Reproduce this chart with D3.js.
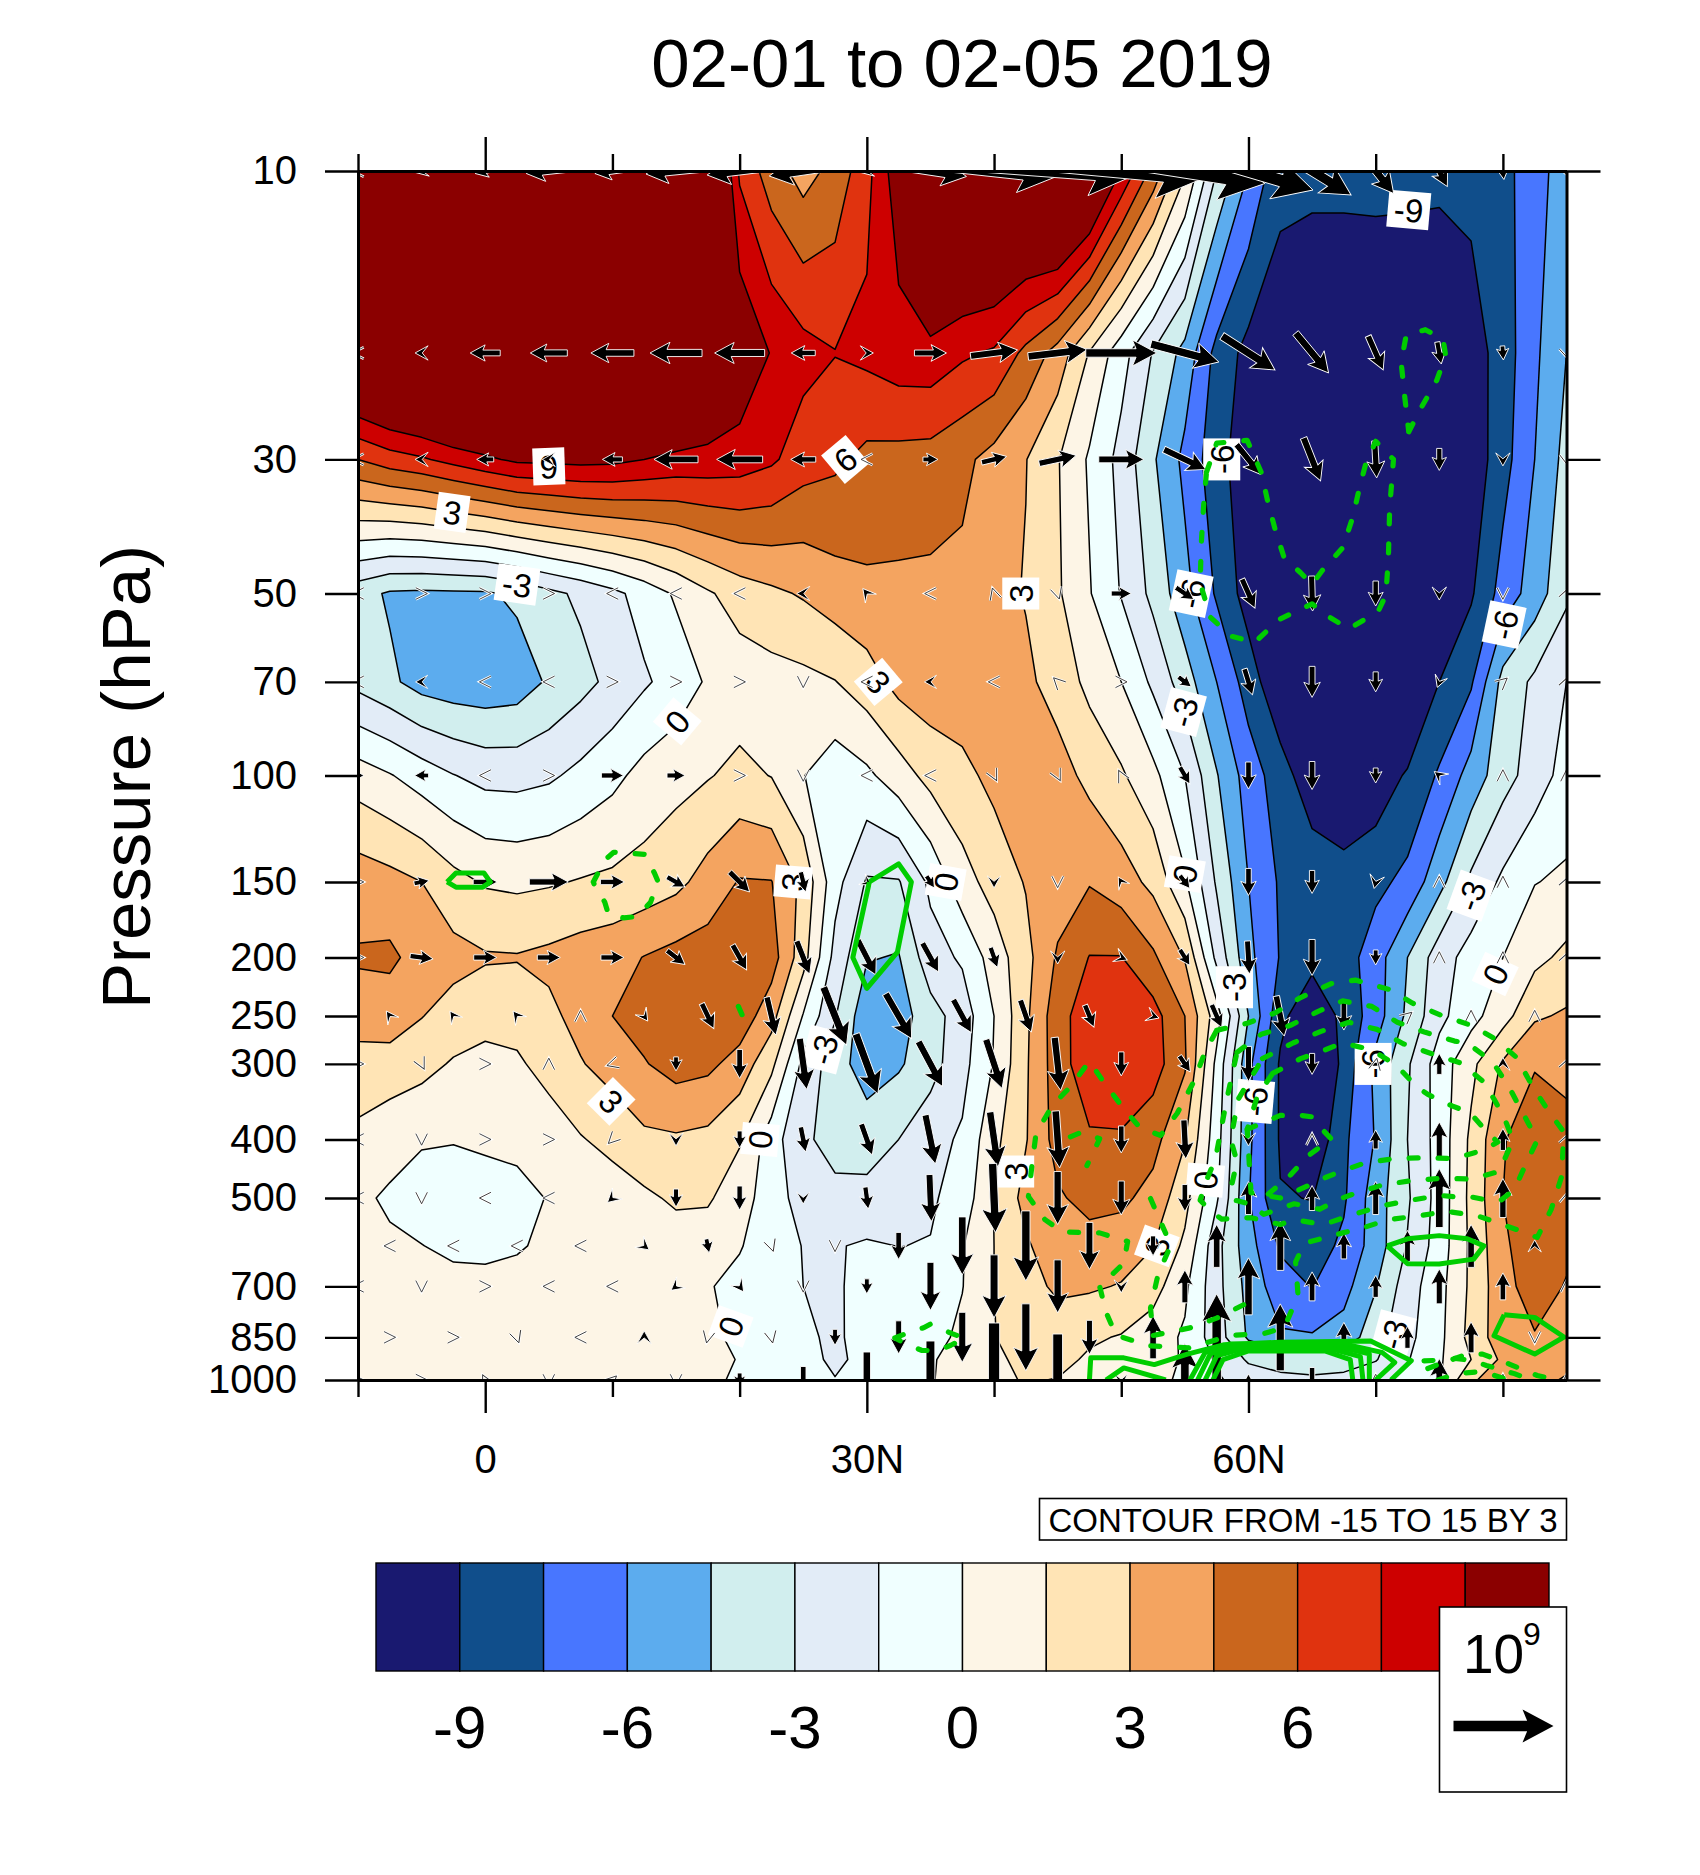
<!DOCTYPE html>
<html><head><meta charset="utf-8">
<script src="https://cdn.jsdelivr.net/npm/d3@7"></script>
<style>
html,body{margin:0;padding:0;background:#fff}
text{font-family:"Liberation Sans",Arial,sans-serif;fill:#000}
</style></head><body>
<svg id="c" width="1700" height="1875" viewBox="0 0 1700 1875"></svg>
<script>
// ---- grid axes
const pressureLevels=[10,20,30,50,70,100,150,200,250,300,400,500,600,700,850,925,1000];
const latStep=2.5, latStart=-10, latCount=39;
// ---- shaded field, one row per pressure level, lat -10..85 by 2.5
const f10=[14,14,14,14,14,14,14,14,14,14,14,13.5,7.25,5.2,3.9,5,7,10,14,14,14,14,15,13,8.9,5.5,1.7,-3,-6,-8.6,-8.7,-8.7,-8.7,-8.7,-8.7,-8.5,-7.9,-6.8,-5];
const f20=[13.5,14.7,15.5,17,16,14,14,14,14,14,14,12,10.4,8.9,8.05,7.55,7.88,8.4,8.5,7.75,7.3,5.6,3.9,1.4,-.9,-3.1,-5,-8,-9.5,-9.8,-10,-10,-9.9,-10,-10.2,-9.8,-8.3,-6.3,-4.5];
const f30=[6,6.8,7.3,8,8.7,9.3,9.4,9.5,9.4,9,8.6,8.5,8.3,7.75,6.7,6.3,5.6,5.5,5.4,4.85,4,3.05,1.6,-.2,-2,-4.3,-6.4,-8.4,-10,-11,-11.5,-11.5,-11.5,-11.5,-11.5,-10,-8.1,-6,-4];
const f50=[-3.9,-4.7,-4.8,-4.75,-4.7,-4.2,-3.4,-2.7,-1.9,-.9,.2,1.3,2.2,2.7,3.15,3.8,4.2,4.17,4.13,4.14,3.5,2.9,1.7,.1,-1.6,-3.4,-5.5,-7.7,-9.7,-11.5,-12,-12,-12,-12,-11.5,-9.2,-6.9,-5.3,-3.3];
const f70=[-3.45,-4.2,-5.1,-5.4,-5.5,-5.3,-4.3,-3.5,-2.6,-1.7,-.9,.2,.65,.9,1.1,1.45,2.3,3.5,3.9,3.9,3.7,3.3,2.4,1.1,0,-1.8,-3.8,-6,-8.2,-10.3,-11.5,-11.5,-11.5,-11.5,-9,-7.7,-4,-2.7,-1.5];
const f100=[.75,.1,-.7,-1.45,-1.95,-2,-1.75,-1.1,-.4,.5,1,1.4,1.9,1.45,.05,-.9,-.3,.8,2,2.6,3.4,3.8,3.6,2.6,1.7,.4,-1.5,-4.4,-6.7,-8.3,-10,-10.5,-10,-8.8,-7.3,-5.4,-3.6,-2.3,-.9];
const f150=[3.85,3.5,3,2,1.35,1.2,1.35,1.6,1.8,2.1,2.6,3.6,4.6,4.55,2.6,-.95,-3.15,-3.1,-1.2,.9,2.1,3.1,3.7,4.4,3.7,2.6,.2,-3.2,-6,-7.7,-8,-8.35,-7.9,-7.1,-5,-2.7,-1.2,-.05,.25];
const f200=[4.65,4.8,3.9,3.5,3.15,3.1,3.35,3.7,3.95,4.55,5,5.2,5.4,5.2,2.1,-2,-4.4,-4.6,-2.1,-1.3,.7,2.5,4.7,6.05,6.05,4.75,2.9,-1.9,-5.6,-7.6,-8.5,-8.2,-6.7,-4.5,-2.2,-.9,0,1.1,1.85];
const f250=[3.85,3.7,3.05,2.4,2,1.9,2.65,3.5,4.5,5.1,5.4,5.6,5.4,3.6,-.1,-2.9,-5.5,-5.2,-3.6,-2.3,0,2.7,5.4,6.9,7.2,6.6,4.5,.7,-4.5,-8.6,-10.2,-8.6,-6.7,-4.2,-1.9,-.5,.9,2.8,3.2];
const f300=[2.25,2.45,2,1.35,1.05,1.34,1.9,2.9,3.6,4.4,5.1,4.85,3.9,1.9,-1.9,-3.8,-5.3,-4.7,-3.6,-2,.1,2.8,5.3,7,7.3,6.7,4.7,-.4,-5.6,-9.2,-11.5,-8.5,-5.6,-3.2,-.8,1.1,3.2,4.4,4.2];
const f400=[1.2,.42,.1,.05,.17,.25,.9,1.4,1.95,2.7,2.8,2.6,1.65,-.8,-2.8,-3.4,-3.6,-3,-2,-1.3,1.1,2.9,5.1,5.8,5.8,5,3.1,-.9,-5.6,-9.2,-10.3,-7.8,-5.9,-3,-.9,1.8,4.4,5.3,4.85];
const f500=[.2,-.15,-.45,-.5,-.45,-.3,.05,.4,.75,1.2,1.75,1.7,.6,-.7,-2.2,-2.7,-2.6,-2.2,-1.7,-.9,1.55,3.5,4.3,5,4.8,4,2,-1.3,-5.9,-8.9,-9.05,-7.7,-5.2,-3.2,-.9,1.9,4.5,5.4,4.7];
const f600=[.3,.15,.02,-.2,-.25,-.1,.2,.45,.6,.7,.75,.65,.1,-.8,-1.55,-1.6,-1.32,-1.52,-1.44,-.1,1.5,2.8,3.9,3.9,3.8,3.05,1.2,-2.5,-5.4,-7.7,-8.2,-7.2,-5.3,-2.9,-.8,1.8,4.2,5.5,4.8];
const f700=[.4,.35,.3,.3,.3,.35,.4,.4,.4,.4,.35,.1,-.4,-.9,-1.5,-1.7,-1,-.9,-.6,-.05,1.5,2.6,3.2,3.2,2.9,2.1,.3,-2.5,-5,-6.9,-7.55,-6.5,-4.6,-2.2,-.5,1.8,4,5.2,4.4];
const f850=[.35,.3,.3,.3,.3,.35,.35,.35,.35,.4,.4,.2,-.2,-.85,-1.25,-1.75,-.9,-.6,-.5,.3,1.45,2.2,2.4,1.7,1.4,.7,-.2,-2.3,-4.7,-5.8,-5.85,-5.4,-3.6,-1.9,-.4,2,3.9,4.4,3.6];
const f925=[.3,.3,.3,.3,.3,.3,.3,.3,.3,.35,.35,.3,-.05,-.7,-1.15,-1.7,-1.2,-.6,-.1,.4,1.2,1.9,1.9,1.3,.9,.4,-.1,-1.7,-3.2,-3.4,-3.6,-3.4,-3.1,-1.6,-.2,1.5,3.3,3.6,3.3];
const f1000=[.3,.3,.3,.3,.3,.3,.3,.3,.3,.3,.3,.2,-.15,-.5,-.9,-1.46,-.9,-.5,-.05,.3,1.2,1.6,1.45,1,.8,.3,-.2,-1.3,-2.2,-2.75,-2.8,-2.75,-2,-1,-.2,2.8,3.8,3.3,2.9];
const fieldRows=[f10,f20,f30,f50,f70,f100,f150,f200,f250,f300,f400,f500,f600,f700,f850,f925,f1000];
// ---- colour levels
const levels=[-9,-7.5,-6,-4.5,-3,-1.5,0,1.5,3,4.5,6,7.5,9];
const bandColors=["#191970","#104E8B","#4876FF","#5CACEE","#D1EEEE","#E2ECF7","#F0FFFF","#FDF5E6","#FFE4B5","#F4A460","#CA661D","#E0330F","#CD0000","#8B0000"];
const barLabels=[-9,-6,-3,0,3,6];
// ---- vectors (units of 1e9); whole rows sit at -10,-5..85, staggered rows at -7.5,-2.5..82.5
const latsWhole=d3.range(-10,85.01,5), latsStag=d3.range(-7.5,82.51,5);
const u10=[-.02,-.12,-.2,-.45,-.35,-.6,-.65,-.68,-.12,.72,1.2,1.48,1.63,1.6,1.29,.78,.36,.16,.02,.02];
const v10=[0,-.03,-.05,-.05,-.05,-.06,-.08,-.1,-.03,-.11,-.13,-.11,-.15,-.25,-.38,-.48,-.45,-.31,-.17,-.05];
const u20=[-.08,-.13,-.3,-.37,-.43,-.52,-.5,-.24,.13,.32,.47,.59,.71,.68,.53,.33,.15,.04,.01,.03];
const v20=[0,0,0,0,0,0,0,0,0,0,.06,.07,0,-.18,-.34,-.4,-.34,-.22,-.14,-.1];
const u30=[-.08,-.13,-.17,-.13,-.2,-.44,-.46,-.25,-.1,.15,.25,.37,.45,.42,.24,.17,.02,0,0,.02];
const v30=[0,0,0,0,0,0,0,0,0,0,.06,.08,0,-.2,-.3,-.43,-.37,-.22,-.13,-.1];
const u50=[-.08,.11,.1,.1,-.1,-.1,-.1,-.13,-.08,-.1,-.03,.03,.2,.18,.13,.01,0,0,0,.02];
const v50=[0,0,0,0,0,0,0,0,.1,0,.1,-.1,0,-.12,-.29,-.35,-.25,-.13,-.11,.05];
const u70=[-.08,-.12,-.11,-.1,.1,.1,.09,0,-.1,-.12,-.11,-.08,.1,.13,.08,0,0,-.04,.08,.02];
const v70=[0,0,0,0,0,0,0,-.1,0,0,0,.08,0,-.1,-.26,-.31,-.2,-.11,.07,.05];
const u100=[.12,-.14,-.1,.11,.22,.18,.1,0,-.1,-.1,.05,.05,-.05,.1,0,0,0,-.1,0,0];
const v100=[0,0,0,0,0,0,0,-.1,0,0,-.1,-.1,.1,-.17,-.27,-.28,-.15,.08,.11,.05];
const u150=[.05,.15,.24,.39,.24,.18,.2,.05,.1,.08,0,0,-.06,.1,0,0,-.03,0,0,.02];
const v150=[0,.03,0,0,0,-.1,-.2,-.2,-.06,-.12,-.12,-.1,.1,-.13,-.27,-.23,-.13,.11,.1,.05];
const u200=[.1,.23,.23,.23,.23,.18,.14,.13,.18,.16,.07,0,.12,.1,.02,0,0,0,0,.02];
const v200=[0,-.03,0,0,0,-.14,-.25,-.33,-.35,-.29,-.2,-.13,-.05,-.16,-.33,-.36,-.15,.11,.1,.05];
const u250=[-.07,-.07,-.08,0,.07,.12,.09,.23,.26,.18,.11,.09,.12,.1,.08,0,.07,0,0];
const v250=[.1,.1,.1,.11,-.1,-.25,-.38,-.58,-.45,-.33,-.32,-.22,-.04,-.23,-.4,-.28,.06,.11,.11];
const u300=[.04,.05,.1,0,-.1,0,0,.07,.22,.24,.16,.06,0,.11,0,0,.02,0,0,.02];
const v300=[0,-.1,0,.1,-.03,-.14,-.29,-.51,-.6,-.45,-.49,-.53,-.24,-.16,-.35,-.21,.1,.21,.13,.05];
const u400=[-.07,0,.1,.09,-.07,0,0,.05,.11,.1,.08,.04,0,.02,0,0,0,0,0,.02];
const v400=[0,-.1,0,0,-.07,-.13,-.17,-.25,-.31,-.49,-.55,-.57,-.27,-.39,-.13,.11,.19,.35,.22,.05];
const u500=[-.1,0,-.1,-.1,-.1,0,0,0,.03,.02,.03,0,0,0,0,0,0,0,0,.02];
const v500=[0,-.09,0,0,-.09,-.18,-.24,-.12,-.22,-.47,-.69,-.53,-.34,-.27,.33,.25,.33,.59,.39,.08];
const u600=[-.1,-.1,-.1,-.09,.1,.03,.03,0,0,0,0,0,0,0,0,0,0,0,0];
const v600=[0,0,0,0,-.08,-.14,-.09,-.1,-.27,-.58,-.7,-.47,-.2,.43,.49,.26,.31,.43,.12];
const u700=[-.1,0,.1,-.1,-.1,-.1,.08,0,0,0,0,0,0,0,0,0,0,0,0,0];
const v700=[0,-.1,0,0,0,-.08,-.11,-.09,-.15,-.48,-.63,-.53,-.13,.33,.57,.29,.22,.35,.27,.05];
const u850=[.1,.1,.03,-.1,0,-.02,.02,0,0,0,0,0,0,0,0,0,0,0,0];
const v850=[0,0,-.09,0,.13,-.09,-.09,-.16,-.33,-.5,-.67,-.34,.43,.87,.67,.3,.22,.31,-.11];
const u1000=[.05,.05,-.05,0,.05,0,0,0,0,0,0,0,0,0,0,0,0,0,0,0];
const v1000=[0,0,.1,-.1,.05,-.1,-.14,-.27,-.56,-.78,-1.14,-.92,-.12,.73,.12,-.25,.1,.43,.1,.05];
const vectorRows=[[10,latsWhole,u10,v10],[20,latsWhole,u20,v20],[30,latsWhole,u30,v30],[50,latsWhole,u50,v50],[70,latsWhole,u70,v70],[100,latsWhole,u100,v100],[150,latsWhole,u150,v150],[200,latsWhole,u200,v200],[250,latsStag,u250,v250],[300,latsWhole,u300,v300],[400,latsWhole,u400,v400],[500,latsWhole,u500,v500],[600,latsStag,u600,v600],[700,latsWhole,u700,v700],[850,latsStag,u850,v850],[1000,latsWhole,u1000,v1000]];
// ---- green contours as [lat, hPa]
const dashed1=[[72.6,27],[73.5,24.8],[74.8,22.2],[75.5,20.2],[75.3,19],[73.9,18.3],[72.4,18.7],[72,20.7],[72.3,23.8],[72.6,27]];
const dashed2=[[56.7,31.5],[57.5,28.2],[59.9,27.9],[61,31.5],[61.5,35.1],[62.1,39.2],[62.8,43.6],[64.1,46.2],[65,48.3],[65.8,45.8],[67.4,42],[68.2,37.4],[68.7,33.6],[69.2,30.6],[70,28],[71.4,30],[71.1,36.1],[71,43.6],[70.8,50.3],[70.2,53.5],[67.9,57.2],[66.1,54.3],[65,52],[62.4,55.2],[60.5,60.2],[58.6,58.8],[57,54.7],[56.2,48],[56.3,41],[56.5,35.1],[56.7,31.5]];
const dashed3=[[8.5,150],[9.4,138],[10.1,134],[12.5,135],[13.3,145],[13.6,150],[13,162],[12,171],[10.9,172],[9.7,170],[9.4,162],[8.6,152],[8.5,150]];
const dashed4=[[19.9,241],[20.2,249],[20,255]];
const dashed5=[[32.2,852],[33.4,833],[34.5,819],[35,808],[35.6,819],[36.7,838],[37.7,854],[36.6,876],[35.5,895],[34.3,893],[33.3,876],[32.2,852]];
const dashed6=[[57.5,264],[59.9,257],[62.1,247],[64.1,233],[66.5,221],[68.4,218],[71.1,226],[72.9,238],[75.1,249],[77.5,259],[79.3,272],[81.1,293],[82.4,329],[83.7,362],[84.8,389],[84.6,462],[83.8,522],[82.7,581],[81.1,564],[78,535],[75.6,526],[73.4,535],[71,543],[69,560],[67.4,571],[64.4,594],[63.7,638],[63.9,725],[62.8,820],[61.2,838],[58.6,844],[55.3,885],[52.3,878],[49.6,844],[48.8,772],[48.3,700],[50.2,641],[50.5,590],[48.3,571],[45.4,569],[44,543],[42.7,497],[43,438],[43.3,391],[44.6,351],[45.9,329],[47.5,297],[48.6,321],[50.2,356],[51.5,383],[53.1,394],[54.4,362],[55.7,321],[56.6,286],[57.5,264]];
const dashed7=[[59.1,287],[61,268],[63.3,259],[65.4,246],[67.4,236],[69.7,241],[71.7,256],[73.9,266],[76.2,275],[77.2,277],[79.2,298],[80.5,328],[81.2,350],[82.2,383],[82.7,401],[81.9,435],[80.9,484],[79.8,505],[78.8,504],[77.5,498],[76.3,498],[75.1,495],[72.8,504],[70.5,515],[68.3,532],[65.9,553],[63.6,543],[62.5,553],[60.2,539],[57.9,542],[57,525],[56.2,504],[56.8,462],[57.4,431],[58.3,343],[59.1,287]];
const dashed8=[[61.1,294],[63.5,277],[65.7,265],[67.9,256],[70.1,263],[72.2,278],[74.5,289],[76.7,299],[78.4,320],[79.3,343],[80.1,368],[80.8,401],[79.7,452],[77.5,465],[75.1,464],[72.8,468],[70.5,476],[68.3,492],[66.9,504],[65.6,522],[63.6,511],[61.2,532],[60,511],[58.9,504],[58.6,484],[59.1,435],[58.6,400],[59.2,343],[61.1,294]];
const dashed9=[[61.9,311],[64.1,294],[66.1,284],[67.4,277],[69.6,284],[71.6,301],[73.2,327],[74.1,337],[76,352],[77.4,361],[78.8,390],[79.6,404],[78.4,417],[76.2,430],[73.9,429],[71.6,430],[69.2,437],[67,454],[66.1,462],[64.6,478],[62.5,500],[60.2,490],[59.9,385],[60.7,339],[61.9,311]];
const dashed10=[[59.9,385],[62.5,365],[64.1,365],[65,367],[65.9,387],[66.6,401],[65.4,415],[64.6,427],[63.3,458],[61.2,500]];
const dashed11=[[52.3,501],[53.1,548],[53.9,598],[52.9,668],[52.3,760],[52.5,844],[55.4,820],[57.5,790],[60.5,735]];
const dashed12=[[46,396],[46.9,389],[48.3,399],[47.3,442]];
const dashed13=[[73.8,930],[76,925],[77.2,906],[78.4,906],[80.5,941],[82.7,983],[84.3,1000]];
const dashed14=[[74.1,957],[76.2,921],[77.5,928],[78.7,946],[80.9,976],[82.2,1000]];
const dashed15=[[74.9,1000],[76.4,976],[78,970],[79.3,982],[80.4,1000]];
const solid1=[[-3,150],[-2.3,145],[-.1,145],[.4,150],[-.2,153],[-2.3,153],[-3,150]];
const solid2=[[30.2,150],[32.5,140],[33.5,150],[32.4,196],[30,225],[28.9,200],[30.2,150]];
const solid3=[[70.9,600],[72.5,584],[75,577],[77.2,584],[78.5,600],[77.7,631],[75,643],[72.5,642],[70.9,600]];
const solid4=[[80.1,780],[82.5,788],[84.8,849],[82.5,906],[79.3,845],[80.1,780]];
const solid5=[[47.5,1000],[47.6,919],[50.2,919],[52.6,943],[55.2,906],[58.1,874],[62.5,866],[69.6,862],[72.8,929],[71.2,1000]];
const solid6=[[55.4,1000],[56.6,900],[58.5,872],[62.5,872],[67.5,872],[70.5,900],[71.5,935],[70,1000]];
const solid7=[[56,1000],[57,905],[59,880],[62.5,880],[67,880],[69.5,905],[69.5,1000]];
const solid8=[[56.6,1000],[57.5,912],[59.5,888],[62.5,888],[66.5,888],[68.8,915],[69,1000]];
const solid9=[[57.2,1000],[58,925],[60,895],[62.5,895],[66,895],[68,925],[68.2,1000]];
const solid10=[[48.8,1000],[50.2,955],[53.5,1000]];
const dashedLines=[dashed1,dashed2,dashed3,dashed4,dashed5,dashed6,dashed7,dashed8,dashed9,dashed10,dashed11,dashed12,dashed13,dashed14,dashed15];
const solidLines=[solid1,solid2,solid3,solid4,solid5,solid6,solid7,solid8,solid9,solid10];
// ---- contour labels: lat, hPa, text, rotation
const contourLabels=[[5,30.8,"9",-2],[-2.6,36.7,"3",8],[28.3,30,"6",-40],[2.5,48.3,"-3",8],[30.9,70,"3",50],[15.1,81.4,"0",-50],[24.2,150,"3",-85],[72.6,11.6,"-9",5],[57.9,30,"-6",-90],[42.1,50,"3",-90],[55.5,50,"-6",-78],[54.9,78.5,"-3",-75],[80.1,56.3,"-6",-78],[36.2,150,"0",-80],[26.6,284,"-3",-75],[9.9,346,"3",45],[21.6,400,"0",-85],[19.3,815,"0",-70],[55,145.6,"0",-80],[58.9,224,"-3",-90],[77.5,158,"-3",-70],[79.4,213,"0",-65],[69.8,300,"-6",-90],[60.5,346,"-6",-85],[56.6,467,"0",-85],[41.7,452,"3",-90],[52.8,600,"3",-70],[71.4,840,"-3",-75]];
// ---- axis ticks
const pTicks=[10,30,50,70,100,150,200,250,300,400,500,700,850,1000];
const latMajor=[0,30,60], latMinor=[-10,10,20,40,50,70,80];
const latLabels={0:"0",30:"30N",60:"60N"};

const svg=d3.select("#c");
const x=d3.scaleLinear().domain([-10,85]).range([358,1566.5]);
const y=d3.scaleLog().domain([10,1000]).range([171,1380]);
const vecLen=d3.scaleLinear().domain([0,1]).range([0,100]);

svg.append("defs").append("clipPath").attr("id","plot").append("rect")
  .attr("x",x(-10)).attr("y",y(10)).attr("width",x(85)-x(-10)).attr("height",y(1000)-y(10));
const plot=svg.append("g").attr("clip-path","url(#plot)");

// shaded contours
function gridLat(c){return latStart+latStep*(c-.5);}
function gridP(r){
  const t=r-.5, n=pressureLevels.length-1, i=Math.max(0,Math.min(n-1,Math.floor(t))), f=t-i;
  const a=Math.log10(pressureLevels[i]), b=Math.log10(pressureLevels[i+1]);
  return Math.pow(10,a+(b-a)*f);
}
const gridPath=d3.geoPath(d3.geoTransform({point(c,r){this.stream.point(x(gridLat(c)),y(gridP(r)));}}));
plot.append("rect").attr("x",x(-10)).attr("y",y(10)).attr("width",x(85)-x(-10)).attr("height",y(1000)-y(10)).attr("fill",bandColors[0]);
const contours=d3.contours().size([latCount,pressureLevels.length]).thresholds(levels)(fieldRows.flat());
plot.selectAll("path.band").data(contours).join("path").attr("class","band")
  .attr("d",gridPath).attr("fill",(d,i)=>bandColors[i+1]).attr("stroke","#000").attr("stroke-width",1.5).attr("stroke-linejoin","round");

// contour labels
const lab=plot.selectAll("g.cl").data(contourLabels).join("g").attr("class","cl")
  .attr("transform",d=>`translate(${x(d[0])},${y(d[1])}) rotate(${d[3]})`);
lab.append("rect").attr("x",d=>d[2].length>1?-21:-16).attr("y",-18.5).attr("width",d=>d[2].length>1?42:32).attr("height",37).attr("fill","#fff");
lab.append("text").attr("text-anchor","middle").attr("y",12).attr("font-size",33).text(d=>d[2]);

// arrows: weakest vectors are open chevrons, then filled chevrons, then shafted arrows
const openLimit=.115, chevronLen=11.5;
function mag(d){return Math.hypot(d.u,d.v);}
function openD(){
  const h=chevronLen/2, w=chevronLen*.5;
  return `M${-h},${-w}L${h},0L${-h},${w}`;
}
function arrowD(L){
  const t=-L/2, h=L/2;
  if(L<14){
    const w=L*.55, n=t+L*.45;
    return `M${h},0L${t},${-w}L${n},0L${t},${w}Z`;
  }
  const sw=(3.8+.065*L)/2, hl=8+.23*L, hw=(9+.24*L)/2, j=h-hl*.85;
  return `M${h},0L${h-hl},${-hw}L${j},${-sw}L${t},${-sw}L${t},${sw}L${j},${sw}L${h-hl},${hw}Z`;
}
const vecData=[];
vectorRows.forEach(([p,lats,u,v])=>lats.forEach((la,i)=>vecData.push({la,p,u:u[i],v:v[i]})));
const vecTransform=d=>`translate(${x(d.la)},${y(d.p)}) rotate(${Math.atan2(-d.v,d.u)*180/Math.PI})`;
const weak=vecData.filter(d=>mag(d)<=openLimit), strong=vecData.filter(d=>mag(d)>openLimit);
plot.selectAll("path.vh").data(weak).join("path").attr("class","vh").attr("d",openD()).attr("transform",vecTransform)
  .attr("fill","none").attr("stroke","#fff").attr("stroke-width",2.6);
plot.selectAll("path.vw").data(weak).join("path").attr("class","vw").attr("d",openD()).attr("transform",vecTransform)
  .attr("fill","none").attr("stroke","#333").attr("stroke-width",.9);
plot.selectAll("path.vec").data(strong).join("path").attr("class","vec")
  .attr("d",d=>arrowD(vecLen(mag(d)))).attr("transform",vecTransform)
  .attr("fill","#000").attr("stroke","#fff").attr("stroke-width",.9).attr("stroke-linejoin","miter");

// green contours
const gl=d3.line().x(d=>x(d[0])).y(d=>y(d[1]));
plot.selectAll("path.gd").data(dashedLines).join("path").attr("class","gd").attr("d",gl)
  .attr("fill","none").attr("stroke","#00CD00").attr("stroke-width",5.2).attr("stroke-dasharray","9 20").attr("stroke-linecap","round").attr("stroke-linejoin","round");
plot.selectAll("path.gs").data(solidLines).join("path").attr("class","gs").attr("d",gl)
  .attr("fill","none").attr("stroke","#00CD00").attr("stroke-width",5).attr("stroke-linejoin","round");

// axes
function styleAxis(g){g.selectAll(".domain").attr("stroke","#000").attr("stroke-width",3);g.selectAll(".tick line").attr("stroke","#000").attr("stroke-width",2.4);}
svg.append("g").attr("transform",`translate(${x(-10)},0)`)
  .call(d3.axisLeft(y).tickValues(pTicks).tickFormat(d3.format("d")).tickSize(33).tickPadding(28).tickSizeOuter(0))
  .call(styleAxis).call(g=>g.selectAll("text").attr("font-size",40).style("font-family",'"Liberation Sans"'));
svg.append("g").attr("transform",`translate(${x(85)},0)`)
  .call(d3.axisRight(y).tickValues(pTicks).tickFormat("").tickSize(34).tickSizeOuter(0)).call(styleAxis);
svg.append("g").attr("transform",`translate(0,${y(1000)})`)
  .call(d3.axisBottom(x).tickValues(latMajor).tickFormat(d=>latLabels[d]).tickSize(33).tickPadding(32).tickSizeOuter(0))
  .call(styleAxis).call(g=>g.selectAll("text").attr("font-size",40).style("font-family",'"Liberation Sans"'));
svg.append("g").attr("transform",`translate(0,${y(1000)})`)
  .call(d3.axisBottom(x).tickValues(latMinor).tickFormat("").tickSize(17).tickSizeOuter(0)).call(styleAxis);
svg.append("g").attr("transform",`translate(0,${y(10)})`)
  .call(d3.axisTop(x).tickValues(latMajor).tickFormat("").tickSize(34).tickSizeOuter(0)).call(styleAxis);
svg.append("g").attr("transform",`translate(0,${y(10)})`)
  .call(d3.axisTop(x).tickValues(latMinor).tickFormat("").tickSize(17).tickSizeOuter(0)).call(styleAxis);

// titles
svg.append("text").attr("x",962).attr("y",87).attr("text-anchor","middle").attr("font-size",69).text("02-01 to 02-05 2019");
svg.append("text").attr("transform","translate(150,777) rotate(-90)").attr("text-anchor","middle").attr("font-size",69).text("Pressure (hPa)");

// contour info box
svg.append("rect").attr("x",1039.5).attr("y",1498.5).attr("width",527).attr("height",41.5).attr("fill","#fff").attr("stroke","#000").attr("stroke-width",1.6);
svg.append("text").attr("x",1303).attr("y",1531.5).attr("text-anchor","middle").attr("font-size",33).text("CONTOUR FROM -15 TO 15 BY 3");

// colour bar
const barX=d3.scaleLinear().domain([-10.5,10.5]).range([376,1549]);
const barVals=bandColors.map((c,i)=>({c,a:i==0?-10.5:levels[i-1],b:i==bandColors.length-1?10.5:levels[i]}));
svg.selectAll("rect.bar").data(barVals).join("rect").attr("class","bar")
  .attr("x",d=>barX(d.a)).attr("width",d=>barX(d.b)-barX(d.a)).attr("y",1563).attr("height",108)
  .attr("fill",d=>d.c).attr("stroke","#000").attr("stroke-width",1.4);
svg.selectAll("text.barl").data(barLabels).join("text").attr("class","barl")
  .attr("x",d=>barX(d)).attr("y",1747.5).attr("text-anchor","middle").attr("font-size",60).text(d=>d);

// reference vector box
svg.append("rect").attr("x",1439.5).attr("y",1607).attr("width",127).attr("height",185).attr("fill","#fff").attr("stroke","#000").attr("stroke-width",1.6);
svg.append("text").attr("x",1463).attr("y",1672.5).attr("font-size",55).text("10");
svg.append("text").attr("x",1523).attr("y",1645).attr("font-size",32).text("9");
svg.append("path").attr("d",arrowD(vecLen(1))).attr("transform","translate(1503.5,1726)").attr("fill","#000");
</script>
</body></html>
